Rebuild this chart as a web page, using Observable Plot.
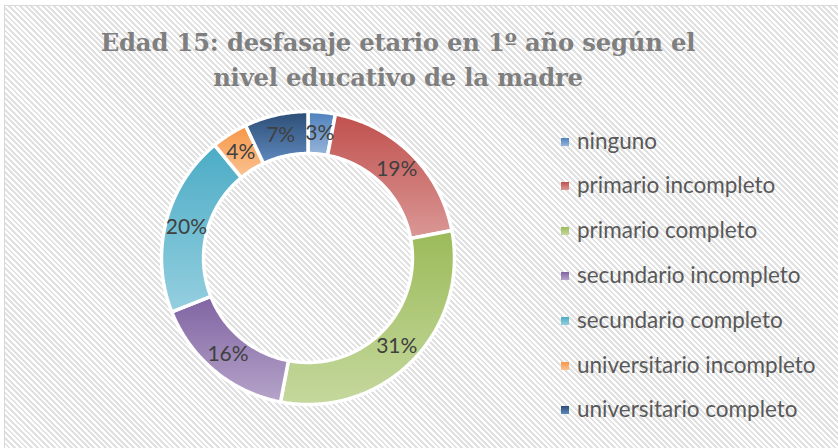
<!DOCTYPE html>
<html>
<head>
<meta charset="utf-8">
<script src="https://cdn.jsdelivr.net/npm/d3@7"></script>
<script src="https://cdn.jsdelivr.net/npm/@observablehq/plot@0.6"></script>
<style>
  html, body { margin: 0; padding: 0; background: #fff; overflow: hidden; }
  #frame {
    position: absolute; left: 4px; top: 5px; width: 860px; height: 470px;
    border: 1px solid #d9d9d9;
    background: repeating-linear-gradient(45deg, #ffffff 0px, #ffffff 2px, #e1e1e1 2px, #e1e1e1 4px);
  }
  #stage { position: absolute; left: 0; top: 0; width: 838px; height: 448px; }
  #title {
    position: absolute; left: 0; width: 796px; top: 25px;
    text-align: center; font-family: "DejaVu Serif", serif; font-weight: bold;
    font-size: 24.3px; line-height: 35px; color: #7f7f7f; letter-spacing: -0.2px;
  }
  #chart { position: absolute; left: 157px; top: 107px; }
  .lg { position: absolute; left: 561px; height: 44px; display: flex; align-items: center;
        font-family: Lato, sans-serif; font-size: 22.5px; color: #595959; white-space: nowrap; }
  .lg .sw { width: 8px; height: 8px; margin-right: 8px; margin-top: 3px; }
</style>
</head>
<body>
<div id="frame"></div>
<div id="stage">
  <div id="title">Edad 15: desfasaje etario en 1º año según el<br>nivel educativo de la madre</div>
  <div id="chart"></div>
  <div id="legend"></div>
</div>
<script>
// ---- data ----
const categories = [
  "ninguno",
  "primario incompleto",
  "primario completo",
  "secundario incompleto",
  "secundario completo",
  "universitario incompleto",
  "universitario completo"
];
const values = [3, 19, 31, 16, 20, 4, 7];
const valueLabels = ["3%", "19%", "31%", "16%", "20%", "4%", "7%"];

// ---- styles (gradient top -> bottom) ----
const topColors = ["#4F81BD", "#C0504D", "#9BBB59", "#8064A2", "#4BACC6", "#F79646", "#2C4D75"];
const bottomColors = ["#97B5D9", "#DA9896", "#C5D89E", "#B5A4C9", "#95CFDF", "#FAC292", "#5F89BF"];

const innerRatio = 0.713;
const midRatio = (1 + innerRatio) / 2;

const table = categories.map((name, i) => ({name, value: values[i], label: valueLabels[i], i}));
const arcs = d3.pie().sort(null).value(d => d.value)(table);

// ring outlines computed from pie angles
const ringPoints = [];
for (const a of arcs) {
  const n = Math.max(2, Math.ceil((a.endAngle - a.startAngle) / (Math.PI / 360)));
  for (let k = 0; k <= n; k++) {
    const t = a.startAngle + (a.endAngle - a.startAngle) * k / n;
    ringPoints.push({name: a.data.name, i: a.data.i, x: Math.sin(t), y: Math.cos(t)});
  }
  for (let k = n; k >= 0; k--) {
    const t = a.startAngle + (a.endAngle - a.startAngle) * k / n;
    ringPoints.push({name: a.data.name, i: a.data.i, x: innerRatio * Math.sin(t), y: innerRatio * Math.cos(t)});
  }
}
const labelPoints = arcs.map(a => {
  const m = (a.startAngle + a.endAngle) / 2;
  return {label: a.data.label, x: midRatio * Math.sin(m), y: midRatio * Math.cos(m)};
});

const size = 301;
const svg = Plot.plot({
  width: size, height: size, margin: 4,
  x: {domain: [-1, 1], axis: null},
  y: {domain: [-1, 1], axis: null},
  color: {type: "identity"},
  style: {background: "transparent", overflow: "visible"},
  marks: [
    Plot.line(ringPoints, {
      x: "x", y: "y", z: "name",
      fill: d => `url(#slice-grad-${d.i})`,
      stroke: "white", strokeWidth: 3.5, strokeLinejoin: "miter",
      curve: "linear-closed"
    }),
    Plot.text(labelPoints, {
      x: "x", y: "y", text: "label",
      fontFamily: "Lato, sans-serif", fontSize: 21, fill: "#404040"
    })
  ]
});

const defs = d3.select(svg).insert("defs", ":first-child");
topColors.forEach((c, i) => {
  const g = defs.append("linearGradient").attr("id", `slice-grad-${i}`)
    .attr("x1", 0).attr("y1", 0).attr("x2", 0).attr("y2", 1);
  g.append("stop").attr("offset", "0%").attr("stop-color", c);
  g.append("stop").attr("offset", "100%").attr("stop-color", bottomColors[i]);
});
document.getElementById("chart").appendChild(svg);

// ---- legend ----
const legend = document.getElementById("legend");
categories.forEach((name, i) => {
  const row = document.createElement("div");
  row.className = "lg";
  row.style.top = (118 + i * 44.8) + "px";
  const sw = document.createElement("div");
  sw.className = "sw";
  sw.style.background = `linear-gradient(${topColors[i]}, ${bottomColors[i]})`;
  const tx = document.createElement("span");
  tx.textContent = name;
  row.appendChild(sw); row.appendChild(tx);
  legend.appendChild(row);
});
</script>
</body>
</html>
